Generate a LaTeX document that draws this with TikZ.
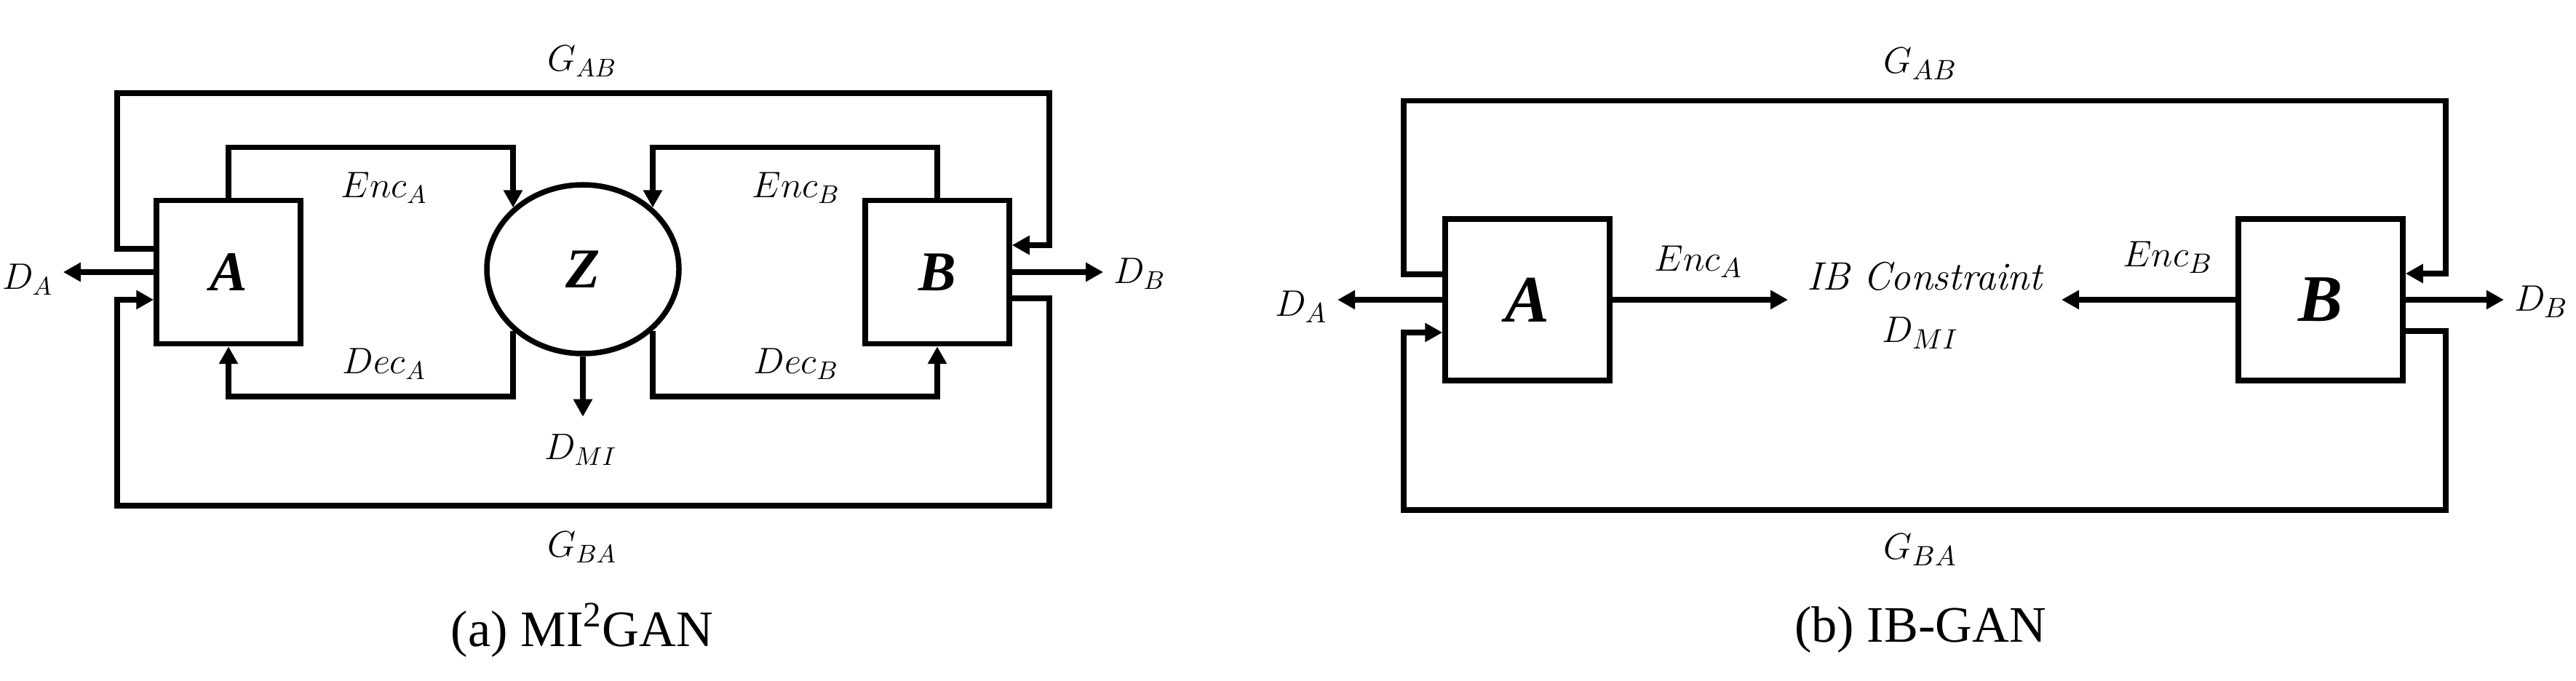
\documentclass[tikz,border=0pt]{standalone}
\usepackage{amsmath}
\usepackage{fontspec}
\setmainfont{Liberation Serif}
\newfontfamily\lmit{Latin Modern Roman}
\usetikzlibrary{arrows.meta,positioning,shapes.geometric,calc}

\begin{document}
\begin{tikzpicture}[
		blk/.style={rectangle, draw, line width=0.075cm, minimum width=1.98cm, minimum height=1.97cm, font=\fontsize{22}{24}\selectfont\bfseries\itshape},
		blkb/.style={blk, minimum width=2.26cm, minimum height=2.22cm, font=\fontsize{26}{28}\selectfont\bfseries\itshape},
		lat/.style={ellipse, draw, line width=0.075cm, minimum width=2.64cm, minimum height=2.32cm, inner sep=0pt, font=\fontsize{22}{24}\selectfont\bfseries\itshape},
		lab/.style={font=\fontsize{14}{16}\selectfont, inner sep=1pt},
		labb/.style={font=\fontsize{15.5}{18}\selectfont, inner sep=1pt},
		captxt/.style={font=\fontsize{20}{22}\selectfont},
		ed/.style={line width=0.075cm},
		ar/.style={ed, -{Triangle[length=0.24cm, width=0.25cm]}}
		]
		\useasboundingbox (0,0) rectangle (35.4,-9.36);
		% (a)
		\node[blk] (a) at (3.14,-3.74) {A};
		\node[blk] (b) at (12.88,-3.74) {B};
		\node[lat] (z) at (8.01,-3.70) {Z};
		\coordinate (tl) at (1.61,-1.28);
		\coordinate (tr) at (14.42,-1.28);
		\coordinate (bl) at (1.61,-6.95);
		\coordinate (br) at (14.42,-6.95);
		\node[lab] (da) at (0.38,-3.84) {$D_A$};
		\node[lab] (db) at (15.66,-3.76) {$D_B$};
		\node[lab] (dmi) at (7.98,-6.18) {$D_{MI}$};
		\node[lab] at (5.28,-2.58) {$Enc_A$};
		\node[lab] at (5.28,-5.00) {$Dec_A$};
		\node[lab] at (10.94,-2.58) {$Enc_B$};
		\node[lab] at (10.94,-5.00) {$Dec_B$};
		\node[lab] at (8.0,-0.84) {$G_{AB}$};
		\node[lab] at (8.0,-7.52) {$G_{BA}$};
		\node[captxt] at (8.0,-8.66) {(a) MI\textsuperscript{2}GAN};
		\draw[ar] ([yshift=3.2mm]a.west) -| (tl) -- (tr) |- ([yshift=3.7mm]b.east);
		\draw[ar] ([yshift=-3.6mm]b.east) -| (br) -- (bl) |- ([yshift=-3.8mm]a.west);
		\draw[ar] (a.west) -- ([xshift=1mm]a.west -| da.east);
		\draw[ar] (b.east) -- ([xshift=-1mm]b.east -| db.west);
		\draw[ar] (a.north) -- ++(0,0.69) -| (z.north west);
		\draw[ar] (b.north) -- ++(0,0.69) -| (z.north east);
		\draw[ar] (z.south west) |- ([yshift=-6.9mm]a.south) -- (a.south);
		\draw[ar] (z.south east) |- ([yshift=-6.9mm]b.south) -- (b.south);
		\draw[ar] (z.south) -- ($(z.south |- dmi.north)+(0,0.2)$);
		% (b)
		\node[blkb] (a2) at (20.99,-4.12) {A};
		\node[blkb] (b2) at (31.89,-4.12) {B};
		\coordinate (tl2) at (19.29,-1.385);
		\coordinate (tr2) at (33.61,-1.385);
		\coordinate (bl2) at (19.29,-7.01);
		\coordinate (br2) at (33.61,-7.01);
		\coordinate (ta) at (24.57,-4.12);
		\coordinate (tb) at (28.33,-4.12);
		\node[labb] (da2) at (17.88,-4.22) {$D_A$};
		\node[labb] (db2) at (34.92,-4.15) {$D_B$};
		\node[labb] (ib) at (26.45,-3.80) {\lmit\itshape IB Constraint};
		\node[labb] at (26.39,-4.58) {$D_{MI}$};
		\node[labb] at (23.34,-3.60) {$Enc_A$};
		\node[labb] at (29.79,-3.54) {$Enc_B$};
		\node[labb] at (26.39,-0.88) {$G_{AB}$};
		\node[labb] at (26.39,-7.56) {$G_{BA}$};
		\node[captxt] at (26.39,-8.66) {(b) IB-GAN};
		\draw[ar] ([yshift=3.5mm]a2.west) -| (tl2) -- (tr2) |- ([yshift=3.6mm]b2.east);
		\draw[ar] ([yshift=-4.3mm]b2.east) -| (br2) -- (bl2) |- ([yshift=-4.5mm]a2.west);
		\draw[ar] (a2.west) -- ([xshift=1mm]a2.west -| da2.east);
		\draw[ar] (b2.east) -- ([xshift=-1mm]b2.east -| db2.west);
		\draw[ar] (a2.east) -- (ta);
		\draw[ar] (b2.west) -- (tb);
	\end{tikzpicture}
\end{document}
